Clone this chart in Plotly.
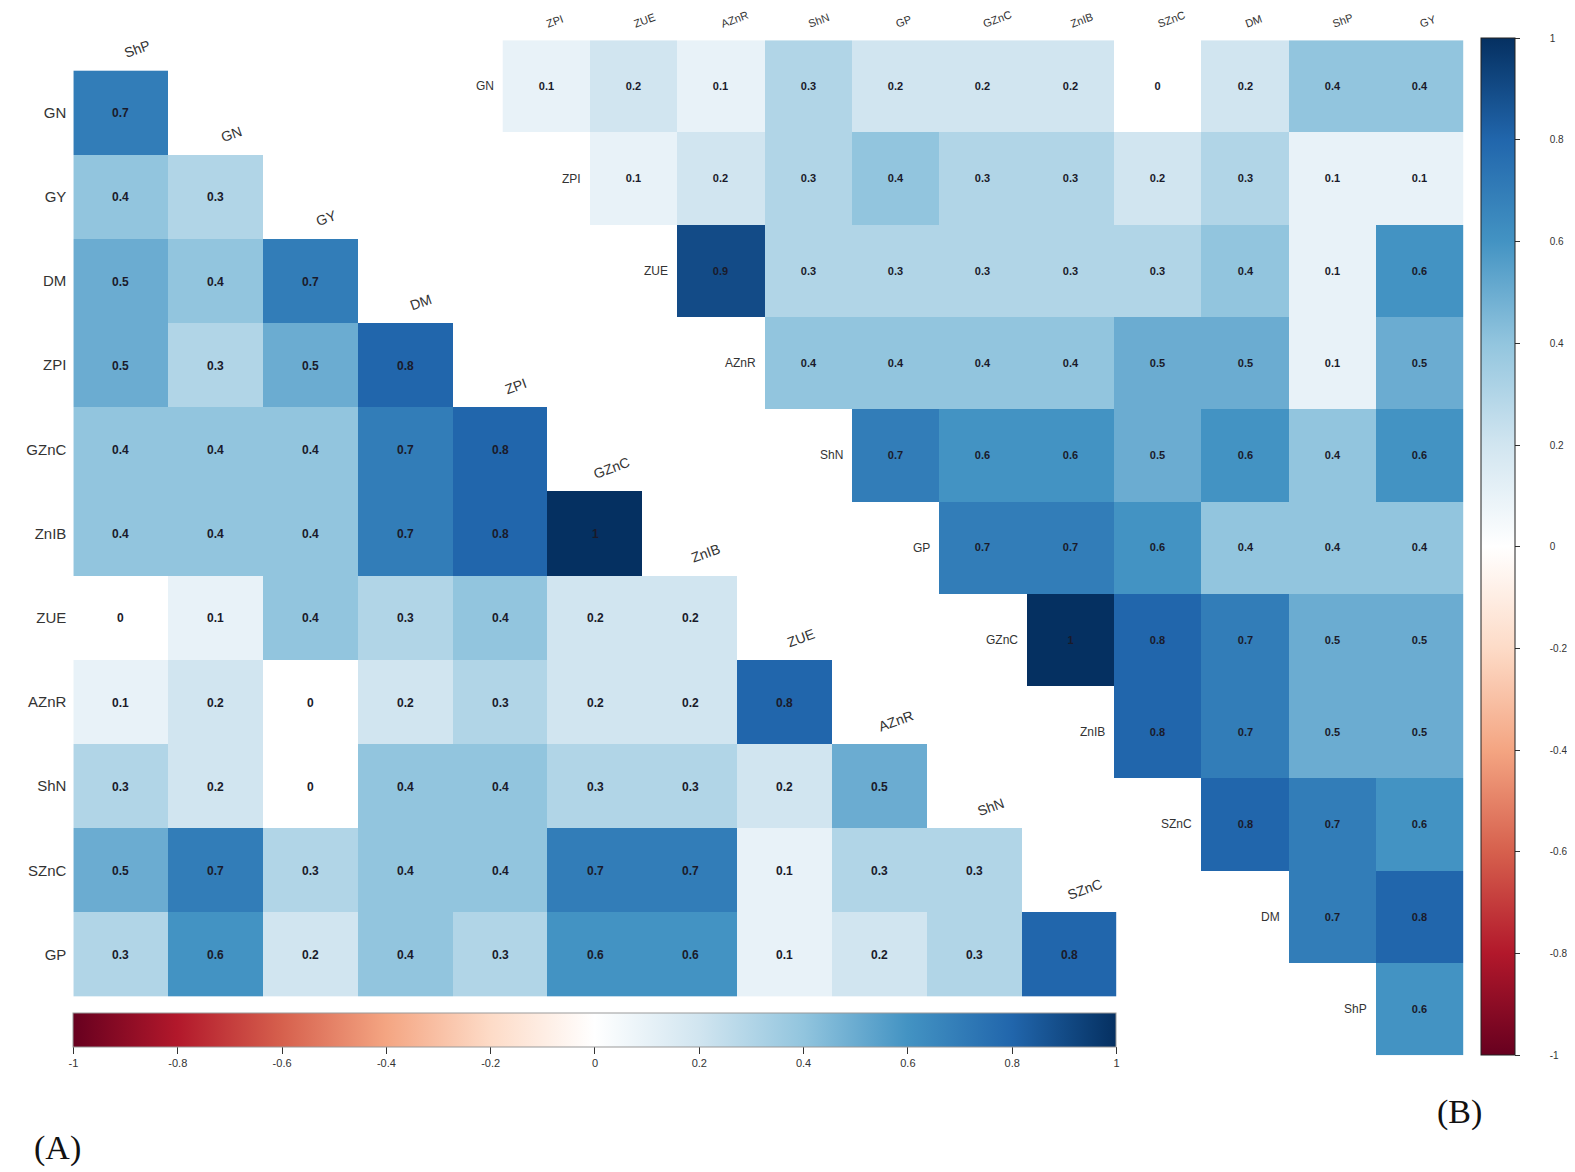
"""
Two correlation heatmaps (A: lower triangle, B: upper triangle) with
corrplot-style RdBu colour bars, rebuilt with plotly.
"""

import plotly.graph_objects as go

W, H = 1575, 1172
OFF = 8  # the page is drawn a few px in from the window corner

# ---------------------------------------------------------------------------
# Data
# ---------------------------------------------------------------------------
A_rows = ["GN", "GY", "DM", "ZPI", "GZnC", "ZnIB", "ZUE", "AZnR", "ShN", "SZnC", "GP"]
A_cols = ["ShP", "GN", "GY", "DM", "ZPI", "GZnC", "ZnIB", "ZUE", "AZnR", "ShN", "SZnC"]
# row i holds columns 0..i
A_vals = [
    [0.7],
    [0.4, 0.3],
    [0.5, 0.4, 0.7],
    [0.5, 0.3, 0.5, 0.8],
    [0.4, 0.4, 0.4, 0.7, 0.8],
    [0.4, 0.4, 0.4, 0.7, 0.8, 1],
    [0, 0.1, 0.4, 0.3, 0.4, 0.2, 0.2],
    [0.1, 0.2, 0, 0.2, 0.3, 0.2, 0.2, 0.8],
    [0.3, 0.2, 0, 0.4, 0.4, 0.3, 0.3, 0.2, 0.5],
    [0.5, 0.7, 0.3, 0.4, 0.4, 0.7, 0.7, 0.1, 0.3, 0.3],
    [0.3, 0.6, 0.2, 0.4, 0.3, 0.6, 0.6, 0.1, 0.2, 0.3, 0.8],
]

B_rows = ["GN", "ZPI", "ZUE", "AZnR", "ShN", "GP", "GZnC", "ZnIB", "SZnC", "DM", "ShP"]
B_cols = ["ZPI", "ZUE", "AZnR", "ShN", "GP", "GZnC", "ZnIB", "SZnC", "DM", "ShP", "GY"]
# row i holds columns i..10
B_vals = [
    [0.1, 0.2, 0.1, 0.3, 0.2, 0.2, 0.2, 0, 0.2, 0.4, 0.4],
    [0.1, 0.2, 0.3, 0.4, 0.3, 0.3, 0.2, 0.3, 0.1, 0.1],
    [0.9, 0.3, 0.3, 0.3, 0.3, 0.3, 0.4, 0.1, 0.6],
    [0.4, 0.4, 0.4, 0.4, 0.5, 0.5, 0.1, 0.5],
    [0.7, 0.6, 0.6, 0.5, 0.6, 0.4, 0.6],
    [0.7, 0.7, 0.6, 0.4, 0.4, 0.4],
    [1, 0.8, 0.7, 0.5, 0.5],
    [0.8, 0.7, 0.5, 0.5],
    [0.8, 0.7, 0.6],
    [0.7, 0.8],
    [0.6],
]

bar_ticks = [-1, -0.8, -0.6, -0.4, -0.2, 0, 0.2, 0.4, 0.6, 0.8, 1]

# corrplot RdBu
RDBU = ["#67001F", "#B2182B", "#D6604D", "#F4A582", "#FDDBC7", "#FFFFFF",
        "#D1E5F0", "#92C5DE", "#4393C3", "#2166AC", "#053061"]
colorscale = [[i / (len(RDBU) - 1), c] for i, c in enumerate(RDBU)]

n = 11


def fill(vals, lower):
    z = [[None] * n for _ in range(n)]
    t = [[""] * n for _ in range(n)]
    for i, row in enumerate(vals):
        start = 0 if lower else i
        for k, v in enumerate(row):
            z[i][start + k] = v
            t[i][start + k] = f"<b>{v:g}</b>"
    return z, t


zA, tA = fill(A_vals, lower=True)
zB, tB = fill(B_vals, lower=False)


# reference pixel -> paper fraction
def px_x(p):
    return (p - OFF) / (W - OFF)


def px_y(p):
    return 1 - (p - OFF) / (H - OFF)


def px_len_x(d):
    return d / (W - OFF)


def px_len_y(d):
    return d / (H - OFF)


fig = go.Figure()

fig.add_trace(go.Heatmap(
    z=zA, x=list(range(n)), y=list(range(n)), text=tA, texttemplate="%{text}",
    textfont=dict(size=12, color="#1a1a2a", family="Liberation Sans, Arial"),
    coloraxis="coloraxis", xaxis="x", yaxis="y", hoverongaps=False,
))
fig.add_trace(go.Heatmap(
    z=zB, x=list(range(n)), y=list(range(n)), text=tB, texttemplate="%{text}",
    textfont=dict(size=11, color="#1a1a2a", family="Liberation Sans, Arial"),
    coloraxis="coloraxis2", xaxis="x2", yaxis="y2", hoverongaps=False,
))

# column labels of A, sitting above the diagonal cells
for j, lab in enumerate(A_cols):
    fig.add_annotation(
        x=j + 0.17, y=j - 0.5, xref="x", yref="y", text=lab, showarrow=False,
        textangle=-20, yanchor="bottom", yshift=7,
        font=dict(size=14, color="#333", family="Liberation Sans, Arial"),
    )

# row labels of B, left of the first cell in each row
for i, lab in enumerate(B_rows):
    fig.add_annotation(
        x=i - 0.5, y=i, xref="x2", yref="y2", text=lab, showarrow=False,
        xanchor="right", xshift=-7,
        font=dict(size=12, color="#333", family="Liberation Sans, Arial"),
    )

fig.add_annotation(x=px_x(57), y=px_y(1140), xref="paper", yref="paper", text="(A)",
                   showarrow=False, xanchor="center", yanchor="middle",
                   font=dict(size=34, color="#111", family="Liberation Serif"))
fig.add_annotation(x=px_x(1452), y=px_y(1104), xref="paper", yref="paper", text="(B)",
                   showarrow=False, xanchor="center", yanchor="middle",
                   font=dict(size=34, color="#111", family="Liberation Serif"))

ax_common = dict(showgrid=False, zeroline=False, showline=False, automargin=False,
                 range=[-0.5, n - 0.5])

fig.update_layout(
    width=W, height=H,
    margin=dict(l=0, r=0, t=0, b=0, autoexpand=False),
    paper_bgcolor="white", plot_bgcolor="rgba(0,0,0,0)",
    font=dict(family="Liberation Sans, Arial, sans-serif", color="#333"),
    xaxis=dict(**ax_common, domain=[px_x(73), px_x(1111)], anchor="y", showticklabels=False),
    yaxis=dict(showgrid=False, zeroline=False, automargin=False,
               domain=[px_y(990), px_y(70)], anchor="x",
               range=[n - 0.5, -0.5], tickvals=list(range(n)), ticktext=A_rows,
               tickfont=dict(size=15, color="#333"), ticks="", ticklabelstandoff=6),
    xaxis2=dict(**ax_common, domain=[px_x(500), px_x(1456)], anchor="y2", side="top",
                tickvals=list(range(n)), ticktext=B_cols, tickangle=-20,
                tickfont=dict(size=11, color="#333"), ticks="", ticklabelstandoff=9),
    yaxis2=dict(showgrid=False, zeroline=False, automargin=False,
                domain=[px_y(1048), px_y(40)], anchor="x2",
                range=[n - 0.5, -0.5], showticklabels=False),
    coloraxis=dict(
        colorscale=colorscale, cmin=-1, cmax=1,
        colorbar=dict(
            orientation="h", x=px_x((73 + 1111) / 2), xanchor="center",
            len=px_len_x(1111 - 73), lenmode="fraction",
            y=px_y(1006), yanchor="top", thickness=34,
            xpad=0, ypad=0,
            outlinecolor="#999", outlinewidth=1,
            tickvals=bar_ticks, ticktext=[f"{v:g}" for v in bar_ticks],
            ticks="outside", ticklen=7, tickcolor="#333",
            tickfont=dict(size=11, color="#333"),
        ),
    ),
    coloraxis2=dict(
        colorscale=colorscale, cmin=-1, cmax=1,
        colorbar=dict(
            orientation="v", x=px_x(1474), xanchor="left",
            y=px_y(38), yanchor="top", len=px_len_y(1048 - 38), lenmode="fraction",
            thickness=34, xpad=0, ypad=0,
            outlinecolor="#222", outlinewidth=1,
            tickvals=bar_ticks,
            ticktext=["\u00a0" * 10 + f"{v:g}" for v in bar_ticks],
            ticks="outside", ticklen=5, tickcolor="#333",
            tickfont=dict(size=10, color="#333"),
        ),
    ),
)

fig.write_html("out.html")
